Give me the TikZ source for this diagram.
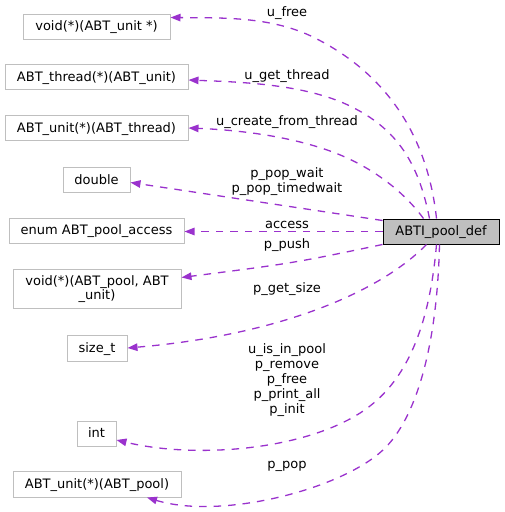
\documentclass[tikz,border=0pt]{standalone}
\usepackage{fontspec}
\setmainfont{DejaVu Sans}
\usetikzlibrary{arrows.meta,calc}
\definecolor{edgec}{HTML}{9A32CD}
\definecolor{boxc}{HTML}{BFBFBF}
\begin{document}
\begin{tikzpicture}[x=1pt,y=-1pt,
  every node/.style={font=\fontsize{13}{12.5}\selectfont, inner sep=0pt},
  tbox/.style={draw=boxc, line width=1pt, text height=10pt, text depth=2pt},
  tboxml/.style={draw=boxc, line width=1pt, align=center},
  mainbox/.style={draw=black, fill=boxc, line width=1pt, text height=10pt, text depth=2pt},
  lbl/.style={anchor=base},
  dep/.style={draw=edgec, line width=1.3pt, dash pattern=on 7.5pt off 7pt,
    -{Triangle[length=10pt,width=7.5pt]}}]
\useasboundingbox (0,0) rectangle (504,512);
% nodes
\node[tbox, minimum width=147pt, minimum height=25pt] (n1) at (96.5,26.5) {void(*)(ABT\_unit *)};
\node[tbox, minimum width=183pt, minimum height=25pt] (n2) at (96.5,77) {ABT\_thread(*)(ABT\_unit)};
\node[tbox, minimum width=183pt, minimum height=25pt] (n3) at (96.5,128) {ABT\_unit(*)(ABT\_thread)};
\node[tbox, minimum width=67pt, minimum height=25pt] (n4) at (96.5,180) {double};
\node[tbox, minimum width=175pt, minimum height=25pt] (n5) at (96.5,230.5) {enum ABT\_pool\_access};
\node[mainbox, minimum width=116pt, minimum height=25pt] (main) at (441,231.5) {ABTI\_pool\_def};
\node[tboxml, minimum width=168pt, minimum height=39.5pt] (n6) at (97,288.75) {void(*)(ABT\_pool, ABT\\\_unit)};
\node[tbox, minimum width=60pt, minimum height=26pt] (n7) at (97,348) {size\_t};
\node[tbox, minimum width=39pt, minimum height=25pt] (n8) at (96.5,433.5) {int};
\node[tbox, minimum width=168pt, minimum height=26pt] (n9) at (97,484) {ABT\_unit(*)(ABT\_pool)};
% edges
\draw[dep] ($(main.north west)+(54,0)$) .. controls (428,140) and (390,75) .. (313,37)
  .. controls (270,16) and (220,18) .. ($(n1.north east)+(0,4)$);
\draw[dep] ($(main.north west)+(47,0)$) .. controls (418,160) and (395,128) .. (350,106)
  .. controls (305,84) and (240,82) .. ($(n2.east)+(0,3)$);
\draw[dep] ($(main.north west)+(41,0)$) .. controls (410,200) and (385,175) .. (345,157)
  .. controls (300,137) and (240,130) .. (n3.east);
\draw[dep] ($(main.north west)+(0,2)$) -- ($(n4.east)+(0,2.5)$);
\draw[dep] (main.west) -- (main.west -| n5.east);
\draw[dep] (main.south west) .. controls (294,263) .. ($(n6.north east)+(0,9)$);
\draw[dep] ($(main.south west)+(44,0)$) .. controls (380,292) and (280,335) .. (n7.east);
\draw[dep] ($(main.south west)+(54,0)$) .. controls (430,320) and (410,375) .. (370,406)
  .. controls (315,449) and (200,460) .. ($(n8.east)+(0,6.5)$);
\draw[dep] ($(main.south west)+(57,0)$) .. controls (437,350) and (415,420) .. (383,450)
  .. controls (340,490) and (220,520) .. ($(n9.south)+(50,0)$);
% labels
\node[lbl] (l1) at (287,16) {u\_free};
\node[lbl] (l2) at (287,79) {u\_get\_thread};
\node[lbl] (l3) at (287,125) {u\_create\_from\_thread};
\node[lbl] (l4a) at (287,177) {p\_pop\_wait};
\node[lbl] (l4b) at (287,192) {p\_pop\_timedwait};
\node[lbl] (l5) at (287,228) {access};
\node[lbl] (l6) at (287,248) {p\_push};
\node[lbl] (l7) at (287,292) {p\_get\_size};
\node[lbl] (l8a) at (287,353) {u\_is\_in\_pool};
\node[lbl] (l8b) at (287,368) {p\_remove};
\node[lbl] (l8c) at (287,383) {p\_free};
\node[lbl] (l8d) at (287,398) {p\_print\_all};
\node[lbl] (l8e) at (287,413) {p\_init};
\node[lbl] (l9) at (287,468) {p\_pop};
\end{tikzpicture}
\end{document}
